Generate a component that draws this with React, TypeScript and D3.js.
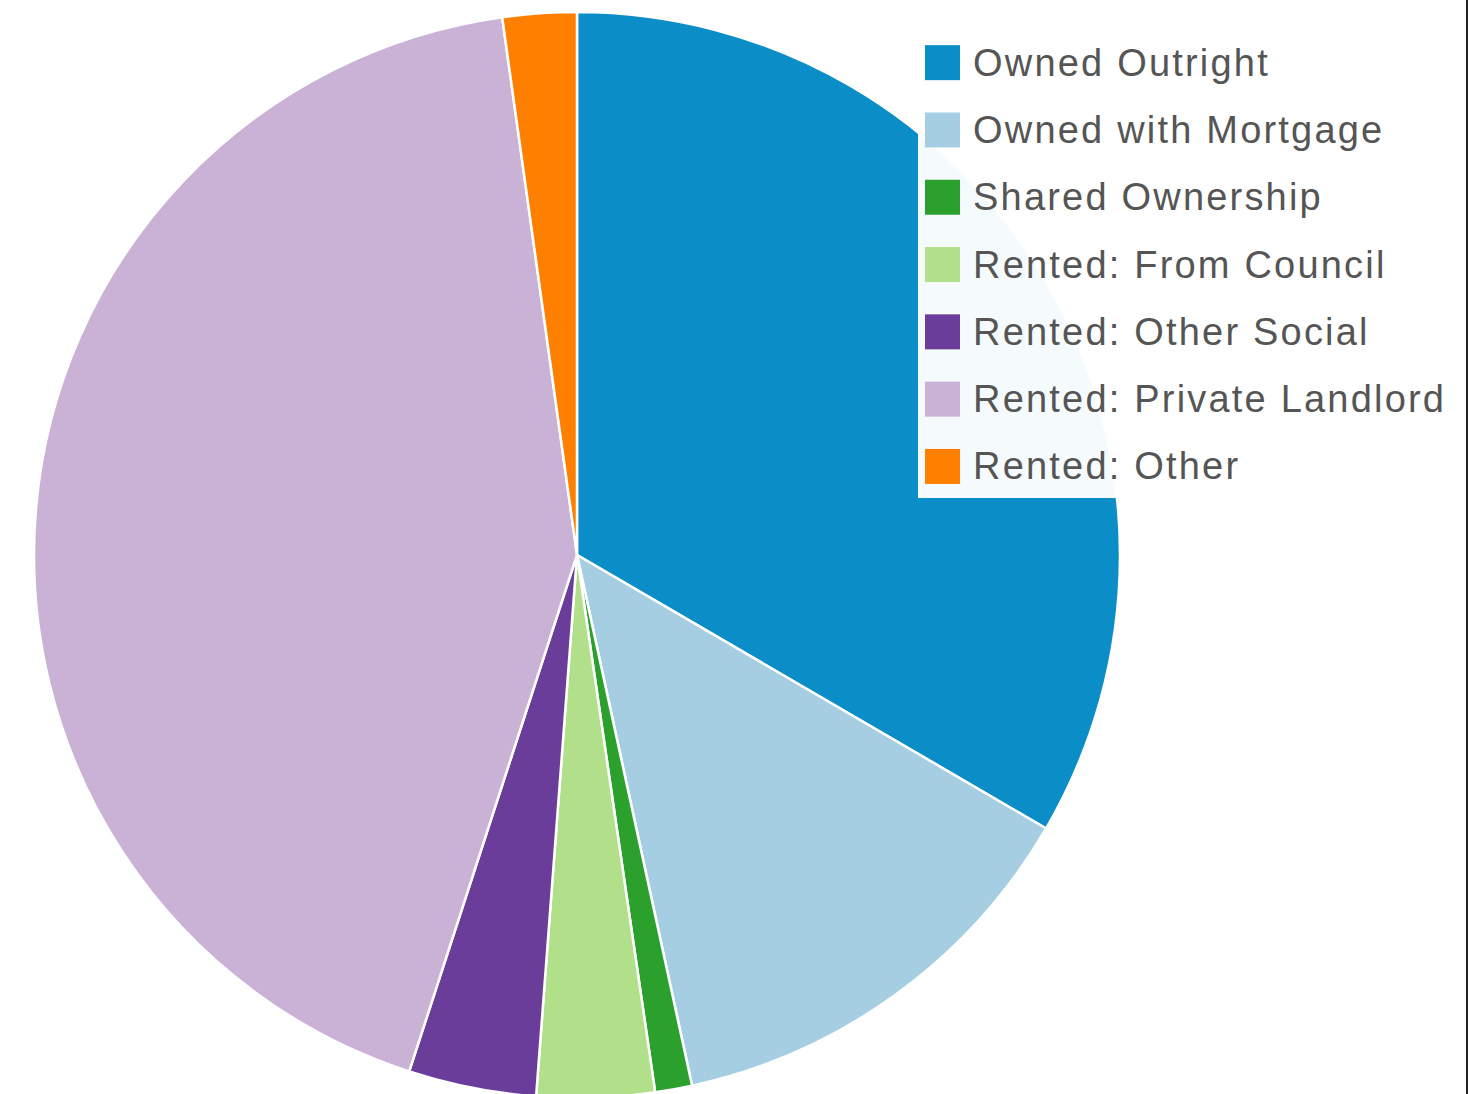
import React from "react";
import * as d3 from "d3";

const categories: string[] = [
  "Owned Outright",
  "Owned with Mortgage",
  "Shared Ownership",
  "Rented: From Council",
  "Rented: Other Social",
  "Rented: Private Landlord",
  "Rented: Other",
];

const shares: number[] = [33.4, 13.2, 1.1, 3.5, 3.8, 42.8, 2.2];

const colors: string[] = [
  "#0b8ec8",
  "#a6cee3",
  "#2ca02c",
  "#b2df8a",
  "#6a3d9a",
  "#cab2d6",
  "#ff7f00",
];

const W = 1468;
const H = 1094;
const CX = 577;
const CY = 555;
const R = 543;

export default function App() {
  const data = categories.map((c, i) => ({ name: c, value: shares[i], color: colors[i] }));
  const pie = d3
    .pie<{ name: string; value: number; color: string }>()
    .sort(null)
    .value((d) => d.value)
    .startAngle(0)
    .endAngle(2 * Math.PI);
  const arcs = pie(data);
  const arcGen = d3
    .arc<d3.PieArcDatum<{ name: string; value: number; color: string }>>()
    .innerRadius(0)
    .outerRadius(R);

  const legendY = d3
    .scaleBand<string>()
    .domain(categories)
    .range([29, 29 + 67.3 * categories.length])
    .paddingInner(0);

  return (
    <svg
      width={W}
      height={H}
      style={{ position: "absolute", left: 0, top: 0, display: "block", background: "#fff" }}
    >
      <rect x={0} y={0} width={W} height={H} fill="#ffffff" />
      <g transform={`translate(${CX},${CY})`}>
        {arcs.map((a, i) => (
          <path key={i} d={arcGen(a) || ""} fill={a.data.color} stroke="#ffffff" strokeWidth={2.5} />
        ))}
      </g>
      <g>
        <rect x={918} y={26} width={545} height={472} fill="#ffffff" fillOpacity={0.96} />
        {categories.map((c, i) => {
          const y = (legendY(c) || 0) + legendY.bandwidth() / 2;
          return (
            <g key={c}>
              <rect x={925} y={y - 17.5} width={35} height={35} fill={colors[i]} />
              <text
                x={973}
                y={y}
                dominantBaseline="central"
                fontFamily="'Liberation Sans', Arial, sans-serif"
                fontSize={38}
                letterSpacing={2.2}
                fill="#555555"
              >
                {c}
              </text>
            </g>
          );
        })}
      </g>
      <rect x={1466} y={0} width={2} height={H} fill="#222222" />
    </svg>
  );
}
